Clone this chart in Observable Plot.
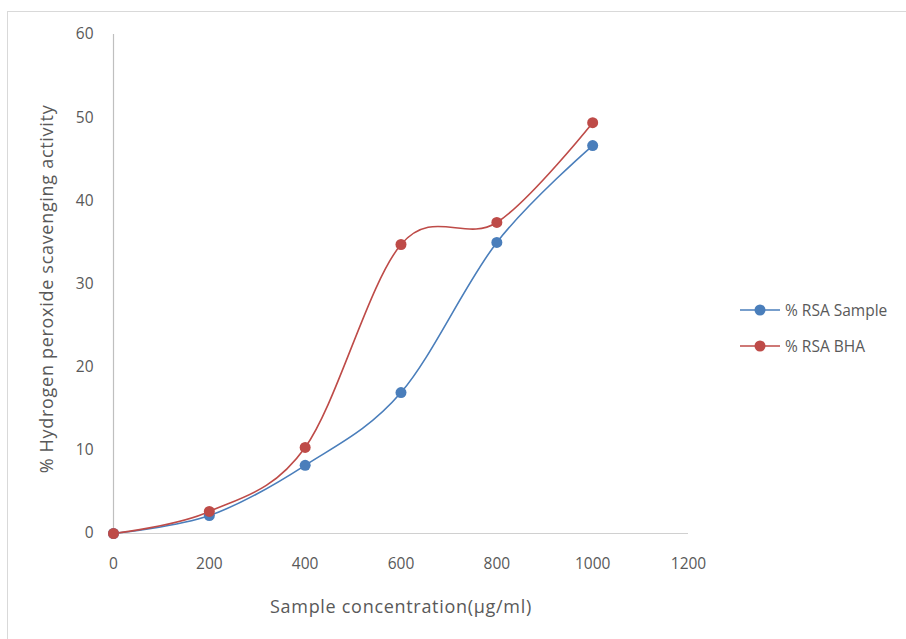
<!DOCTYPE html>
<html>
<head>
<meta charset="utf-8">
<script src="https://cdn.jsdelivr.net/npm/d3@7"></script>
<script src="https://cdn.jsdelivr.net/npm/@observablehq/plot@0.6"></script>
<style>
  html, body { margin: 0; padding: 0; background: #fff; }
  #wrap { position: relative; width: 906px; height: 639px; overflow: hidden; font-family: "Open Sans", Lato, sans-serif; }
  #frame { position: absolute; left: 7px; top: 11px; width: 1000px; height: 1000px; border-left: 1.5px solid #d9d9d9; border-top: 1.5px solid #d9d9d9; box-sizing: border-box; }
  #chart { position: absolute; left: 0; top: 0; }
  #legend { position: absolute; left: 738px; top: 292px; }
  .item { display: flex; align-items: center; height: 36px; font-size: 15.5px; color: #595959; }
  .item svg { margin-right: 3px; }
</style>
</head>
<body>
<div id="wrap">
  <div id="frame"></div>
  <div id="chart"></div>
  <div id="legend"></div>
</div>
<script>
const concentrations = [0, 200, 400, 600, 800, 1000];
const rsaSample = [0, 2.15, 8.2, 16.95, 35.0, 46.65];
const rsaBHA = [0, 2.65, 10.35, 34.75, 37.4, 49.4];
const seriesNames = ["% RSA Sample", "% RSA BHA"];
const seriesColors = ["#4a7ebb", "#be4b48"];
const xTicks = [0, 200, 400, 600, 800, 1000, 1200];
const yTicks = [0, 10, 20, 30, 40, 50, 60];

const data = [];
[rsaSample, rsaBHA].forEach((vals, i) => {
  vals.forEach((v, j) => data.push({series: seriesNames[i], x: concentrations[j], y: v}));
});

const chart = Plot.plot({
  width: 906,
  height: 639,
  marginLeft: 113,
  marginRight: 218,
  marginTop: 34,
  marginBottom: 106,
  style: { fontFamily: "'Open Sans', Lato, sans-serif", fontSize: "15.5px", color: "#595959", background: "transparent" },
  x: { domain: [0, 1200], ticks: xTicks, tickFormat: d => String(d), tickSize: 0, tickPadding: 24, label: "Sample concentration(µg/ml)", labelAnchor: "center", labelArrow: "none", labelOffset: 79 },
  y: { domain: [0, 60], ticks: yTicks, tickFormat: d => String(d), tickSize: 0, tickPadding: 20, label: "% Hydrogen peroxide scavenging activity", labelAnchor: "center", labelArrow: "none", labelOffset: 73 },
  color: { domain: seriesNames, range: seriesColors },
  marks: [
    Plot.ruleX([0], { stroke: "#bfbfbf", strokeWidth: 1.2 }),
    Plot.ruleY([0], { stroke: "#d0d0d0", strokeWidth: 1.2 }),
    Plot.line(data, { x: "x", y: "y", z: "series", stroke: "series", curve: "cardinal", tension: 0, strokeWidth: 1.6 }),
    Plot.dot(data, { x: "x", y: "y", fill: "series", r: 5.5, stroke: "none" })
  ]
});
chart.querySelectorAll('g[aria-label="x-axis label"], g[aria-label="y-axis label"]').forEach(g => {
  g.setAttribute("font-size", "18px");
  g.setAttribute("letter-spacing", "0.7px");
});
const yLabel = chart.querySelector('g[aria-label="y-axis label"]');
if (yLabel) {
  const t = yLabel.getAttribute("transform") || "";
  yLabel.setAttribute("transform", (t + " translate(0,5)").trim());
}
document.getElementById("chart").appendChild(chart);

const legend = d3.select("#legend");
seriesNames.forEach((name, i) => {
  const item = legend.append("div").attr("class", "item");
  const svg = item.append("svg").attr("width", 44).attr("height", 14);
  svg.append("line").attr("x1", 2).attr("x2", 42).attr("y1", 7).attr("y2", 7).attr("stroke", seriesColors[i]).attr("stroke-width", 1.6);
  svg.append("circle").attr("cx", 22).attr("cy", 7).attr("r", 5.5).attr("fill", seriesColors[i]);
  item.append("span").text(name);
});
</script>
</body>
</html>
